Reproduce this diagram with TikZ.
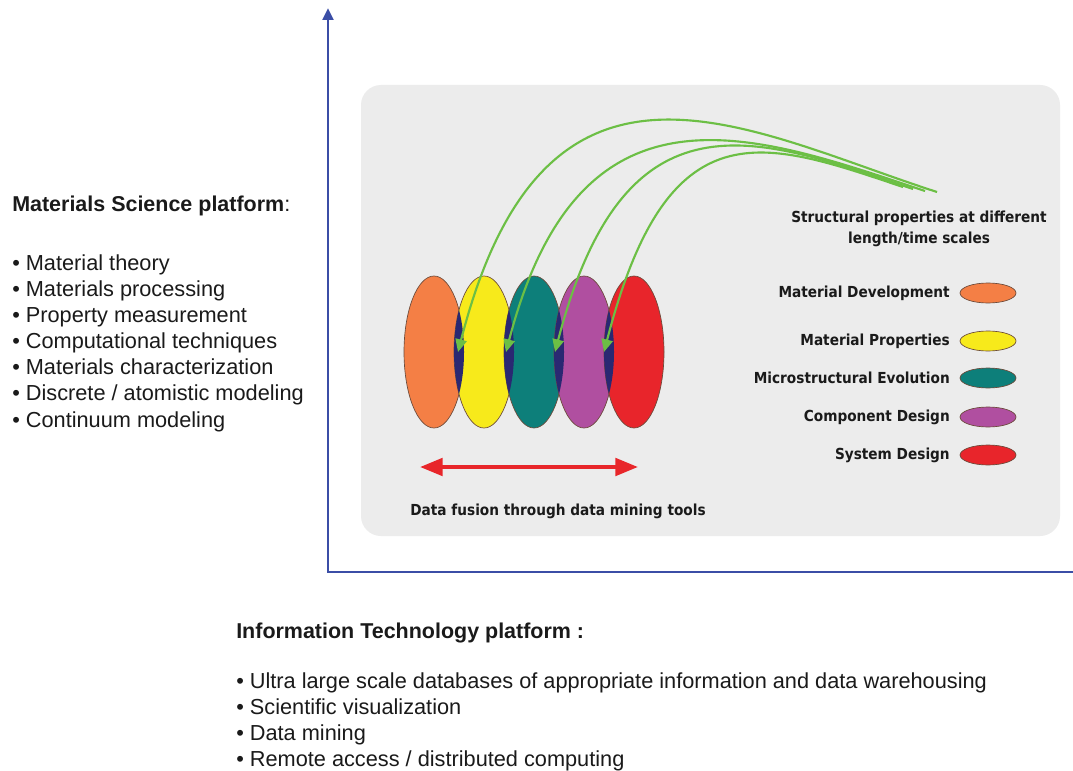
\documentclass[tikz,border=0pt]{standalone}
\usepackage{fontspec}
\setmainfont{Liberation Sans}
\newfontfamily\legendfont{DejaVu Sans Condensed}
\usetikzlibrary{arrows.meta}

\definecolor{axisblue}{HTML}{3B4EA6}
\definecolor{panelgray}{HTML}{ECECEC}
\definecolor{arrowgreen}{HTML}{6CBF45}
\definecolor{fusionred}{HTML}{E8262A}
\definecolor{devorange}{HTML}{F47F45}
\definecolor{propyellow}{HTML}{F7EA1B}
\definecolor{microteal}{HTML}{0D7F7A}
\definecolor{comppurple}{HTML}{B04FA0}
\definecolor{sysred}{HTML}{E8252B}
\definecolor{lensnavy}{HTML}{2A2872}
\definecolor{rimbrown}{HTML}{6B4A3A}
\definecolor{inkblack}{HTML}{1A1A1A}

\tikzset{
  axisline/.style={draw=axisblue, line width=2.2pt, line join=miter},
  linkarrow/.style={draw=arrowgreen, line width=1.6pt, -{Triangle[width=8.5pt,length=9.5pt]}},
  fusionarrow/.style={draw=fusionred, line width=3pt,
    {Triangle[width=13pt,length=17pt]}-{Triangle[width=13pt,length=17pt]}},
  rim/.style={draw=rimbrown, line width=0.5pt},
  bigtext/.style={font=\fontsize{16.3}{19}\selectfont, text=inkblack, inner sep=0pt},
  bigtitle/.style={font=\fontsize{16.1}{19}\selectfont\bfseries, text=inkblack, inner sep=0pt},
  legendtext/.style={font=\legendfont\bfseries\fontsize{11.4}{16}\selectfont, text=inkblack, inner sep=0pt},
}

\begin{document}
\begin{tikzpicture}[x=0.75pt,y=-0.75pt]
\useasboundingbox (0,0) rectangle (1073,770);
\fill[white] (0,0) rectangle (1073,770);

% grey panel behind the scale diagram
\fill[panelgray, rounded corners=15pt] (361,85) rectangle (1060,536);

% axes
\coordinate (ytop) at (328,8);
\coordinate (origin) at (328,572);
\coordinate (xend) at (1073,572);
\draw[axisline, {Triangle[width=8pt,length=9pt]}-] (ytop) -- (origin) -- (xend);

% overlapping scale ellipses
\coordinate (c1) at (434,352);
\coordinate (c2) at (484,352);
\coordinate (c3) at (534,352);
\coordinate (c4) at (584,352);
\coordinate (c5) at (634,352);
\def\erx{22.5pt}
\def\ery{57pt}
\filldraw[fill=devorange, rim] (c1) ellipse [x radius=\erx, y radius=\ery];
\foreach \prev/\cur/\col in {c1/c2/propyellow, c2/c3/microteal, c3/c4/comppurple, c4/c5/sysred}{
  \filldraw[fill=\col, rim] (\cur) ellipse [x radius=\erx, y radius=\ery];
  \begin{scope}
    \clip (\prev) ellipse [x radius=\erx, y radius=\ery];
    \fill[lensnavy] (\cur) ellipse [x radius=\erx, y radius=\ery];
  \end{scope}
}

% links from the structural properties label to each overlap
\coordinate (s1) at (937,192);
\coordinate (s2) at (925,191);
\coordinate (s3) at (913,189);
\coordinate (s4) at (903,187);
\coordinate (t1) at (458,352);
\coordinate (t2) at (506,352);
\coordinate (t3) at (555,352);
\coordinate (t4) at (604,352);
\draw[linkarrow] (s1) .. controls (745,130) and (545,12) .. (t1);
\draw[linkarrow] (s2) .. controls (754,134) and (580,68) .. (t2);
\draw[linkarrow] (s3) .. controls (756,136) and (625,84) .. (t3);
\draw[linkarrow] (s4) .. controls (763,140) and (668,104) .. (t4);

% data fusion arrow
\coordinate (fl) at (420,467);
\coordinate (fr) at (638,467);
\draw[fusionarrow] (fl) -- (fr);
\node[legendtext] (fusion) at (558,511) {Data fusion through data mining tools};

% legend
\node[legendtext, align=center] (struct) at (919,229)
  {Structural properties at different\\length/time scales};
\foreach \n/\y/\col/\lab in {
  dev/293/devorange/Material Development,
  prop/341/propyellow/Material Properties,
  micro/378/microteal/Microstructural Evolution,
  comp/417/comppurple/Component Design,
  sys/455/sysred/System Design}{
  \filldraw[fill=\col, rim] (988,\y) ellipse [x radius=21pt, y radius=7.5pt];
  \node[legendtext, anchor=east] (leg-\n) at (950,\y) {\lab};
}

% materials science platform list
\node[bigtitle, anchor=base west] (mstitle) at (12,211)
  {Materials Science platform\mdseries:};
\foreach \k/\y/\txt in {
  1/270/{Material theory},
  2/296/{Materials processing},
  3/322/{Property measurement},
  4/348/{Computational techniques},
  5/374/{Materials characterization},
  6/400/{Discrete / atomistic modeling},
  7/427/{Continuum modeling}}{
  \node[bigtext, anchor=base west] (ms\k) at (12,\y) {• \txt};
}

% information technology platform list
\node[bigtitle, anchor=base west] (ittitle) at (236,638)
  {Information Technology platform :};
\foreach \k/\y/\txt in {
  1/688/{Ultra large scale databases of appropriate information and data warehousing},
  2/714/{Scientific visualization},
  3/740/{Data mining},
  4/766/{Remote access / distributed computing}}{
  \node[bigtext, anchor=base west] (it\k) at (236,\y) {• \txt};
}
\end{tikzpicture}
\end{document}
